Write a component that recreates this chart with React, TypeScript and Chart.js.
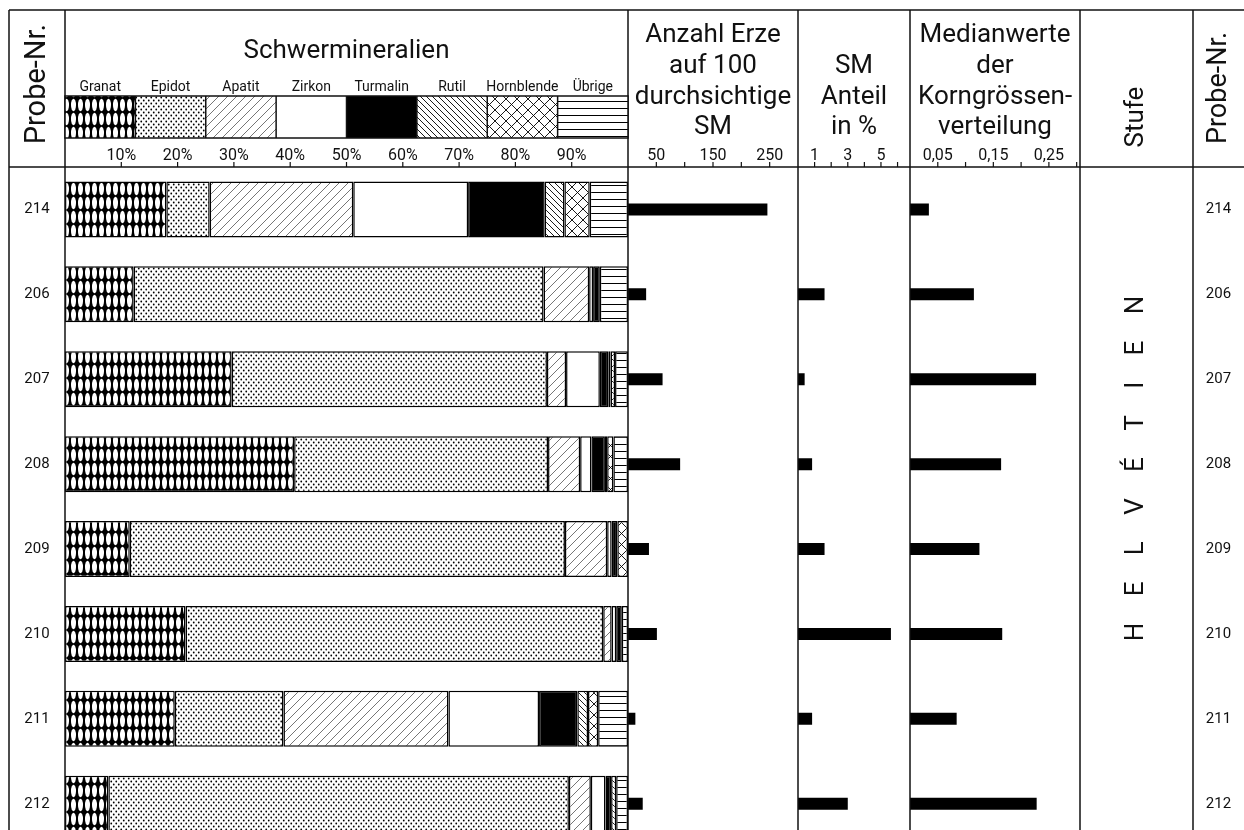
import React, { useEffect, useRef } from 'react';
import { Chart, registerables } from 'chart.js';

Chart.register(...registerables);

// ---- data ----
const samples = ['214', '206', '207', '208', '209', '210', '211', '212'];
const mineralNames = ['Granat', 'Epidot', 'Apatit', 'Zirkon', 'Turmalin', 'Rutil', 'Hornblende', 'Übrige'];

// heavy mineral composition in % per sample
const granat = [18.0, 12.2, 29.6, 40.7, 11.5, 21.4, 19.5, 7.7];
const epidot = [7.7, 72.8, 56.0, 45.1, 77.3, 74.2, 19.3, 81.8];
const apatit = [25.5, 8.1, 3.4, 5.7, 7.5, 1.5, 29.3, 3.9];
const zirkon = [20.4, 0.7, 6.0, 2.0, 0.8, 0.8, 16.1, 2.6];
const turmalin = [13.6, 1.2, 1.5, 2.4, 1.0, 1.0, 6.8, 1.0];
const rutil = [3.5, 0, 0.4, 0.4, 0, 0, 1.9, 0.9];
const hornblende = [4.5, 0, 0.8, 1.1, 1.9, 0, 1.8, 0];
const uebrige = [6.8, 5.0, 2.3, 2.6, 0, 1.1, 5.3, 2.1];

// ores per 100 transparent heavy minerals
const erze = [246, 32, 61, 92, 37, 51, 13, 26];
// heavy mineral share in %
const smAnteil = [null, 1.6, 0.4, 0.85, 1.6, 5.6, 0.85, 3.0];
// median grain size
const median = [0.034, 0.115, 0.227, 0.164, 0.125, 0.166, 0.084, 0.228];

// axis ticks and labels
const mineralTicks = [10, 20, 30, 40, 50, 60, 70, 80, 90];
const erzeTicks = [50, 100, 150, 200, 250];
const erzeLabels = [50, 150, 250];
const smTicks = [1, 2, 3, 4, 5, 6];
const smLabels = [1, 3, 5];
const medianTicks = [0.05, 0.1, 0.15, 0.2, 0.25, 0.3];
const medianLabels = [0.05, 0.15, 0.25];

const stageName = 'HELVÉTIEN';

// ---- layout ----
const W = 1244;
const H = 848;
const FONT = 'Roboto, "DejaVu Sans", sans-serif';
const INK = '#111';
const TOP = 10;
const HEAD_BOTTOM = 167;
const LEG_TOP = 96;
const LEG_BOTTOM = 138;
const FRAME_LEFT = 9;
const PROBE_RIGHT = 1193;
const ROW_PITCH = 84.9;
const MIN_LEFT = 65;
const MIN_RIGHT = 628;

const placement: Record<string, [number, number]> = {
  xErze: [628, 798],
  xSM: [798, 910],
  xMed: [910, 1080],
};

function makeTile(w: number, h: number, draw: (g: CanvasRenderingContext2D, w: number, h: number) => void) {
  const c = document.createElement('canvas');
  c.width = w;
  c.height = h;
  const g = c.getContext('2d')!;
  draw(g, w, h);
  return c;
}

function diagonalTile(s: number, dir: 1 | -1, color: string, lw: number) {
  return makeTile(s, s, (g) => {
    g.fillStyle = '#fff';
    g.fillRect(0, 0, s, s);
    g.strokeStyle = color;
    g.lineWidth = lw;
    g.beginPath();
    for (const k of [-1, 0, 1]) {
      if (dir === 1) {
        g.moveTo(k * s, s);
        g.lineTo(k * s + s, 0);
      } else {
        g.moveTo(k * s, 0);
        g.lineTo(k * s + s, s);
      }
    }
    g.stroke();
  });
}

function buildFills(ctx: CanvasRenderingContext2D): (CanvasPattern | string)[] {
  const granatTile = makeTile(7, 14, (g, w, h) => {
    g.fillStyle = '#000';
    g.fillRect(0, 0, w, h);
    g.fillStyle = '#fff';
    g.beginPath();
    g.ellipse(3.5, 7, 2.5, 6.2, 0, 0, Math.PI * 2);
    g.fill();
  });
  const epidotTile = makeTile(5, 6, (g, w, h) => {
    g.fillStyle = '#fff';
    g.fillRect(0, 0, w, h);
    g.fillStyle = '#000';
    for (const [px, py] of [[1.25, 1.5], [3.75, 4.5]]) {
      g.beginPath();
      g.arc(px, py, 0.9, 0, Math.PI * 2);
      g.fill();
    }
  });
  const apatitTile = diagonalTile(9, 1, '#666', 0.9);
  const rutilTile = diagonalTile(6, -1, '#000', 0.9);
  const hornTile = makeTile(11, 11, (g, w, h) => {
    g.fillStyle = '#fff';
    g.fillRect(0, 0, w, h);
    g.strokeStyle = '#000';
    g.lineWidth = 0.9;
    g.beginPath();
    for (const k of [-1, 0, 1]) {
      g.moveTo(k * w, h);
      g.lineTo(k * w + w, 0);
      g.moveTo(k * w, 0);
      g.lineTo(k * w + w, h);
    }
    g.stroke();
  });
  const uebrigeTile = makeTile(7, 7, (g, w, h) => {
    g.fillStyle = '#fff';
    g.fillRect(0, 0, w, h);
    g.fillStyle = '#000';
    g.fillRect(0, 3, w, 1);
  });
  const pat = (c: HTMLCanvasElement) => ctx.createPattern(c, 'repeat')!;
  return [pat(granatTile), pat(epidotTile), pat(apatitTile), '#fff', '#000', pat(rutilTile), pat(hornTile), pat(uebrigeTile)];
}

function line(ctx: CanvasRenderingContext2D, x1: number, y1: number, x2: number, y2: number) {
  ctx.beginPath();
  ctx.moveTo(x1, y1);
  ctx.lineTo(x2, y2);
  ctx.stroke();
}

function rotatedText(ctx: CanvasRenderingContext2D, text: string, cx: number, cy: number, font: string) {
  ctx.save();
  ctx.translate(cx, cy);
  ctx.rotate(-Math.PI / 2);
  ctx.font = font;
  ctx.textAlign = 'center';
  ctx.textBaseline = 'middle';
  ctx.fillText(text, 0, 0);
  ctx.restore();
}

function spacedRotated(ctx: CanvasRenderingContext2D, text: string, cx: number, cy: number, span: number, font: string) {
  ctx.save();
  ctx.translate(cx, cy);
  ctx.rotate(-Math.PI / 2);
  ctx.font = font;
  ctx.textAlign = 'center';
  ctx.textBaseline = 'middle';
  const chars = [...text];
  const widths = chars.map((c) => ctx.measureText(c).width);
  const inner = widths.reduce((a, b) => a + b, 0) - widths[0] / 2 - widths[widths.length - 1] / 2;
  const gap = (span - inner) / (chars.length - 1);
  let pos = -span / 2;
  chars.forEach((c, i) => {
    ctx.fillText(c, pos, 0);
    if (i < chars.length - 1) pos += widths[i] / 2 + gap + widths[i + 1] / 2;
  });
  ctx.restore();
}

function centeredLines(ctx: CanvasRenderingContext2D, lines: string[], cx: number, baselines: number[], font: string) {
  ctx.font = font;
  ctx.textAlign = 'center';
  ctx.textBaseline = 'alphabetic';
  lines.forEach((t, i) => ctx.fillText(t, cx, baselines[i]));
}

// moves the three side axes into their own columns
const columnPlugin = {
  id: 'columns',
  afterLayout(chart: any) {
    for (const id of Object.keys(placement)) {
      const s = chart.scales[id];
      if (!s) continue;
      const [l, r] = placement[id];
      s.left = l;
      s.right = r;
      s.width = r - l;
      s.configure();
    }
  },
};

function makeFramePlugin(fills: (CanvasPattern | string)[]) {
  return {
    id: 'frame',
    beforeDraw(chart: any) {
      const ctx = chart.ctx as CanvasRenderingContext2D;
      ctx.save();
      ctx.fillStyle = '#fff';
      ctx.fillRect(0, 0, chart.width, chart.height);
      ctx.restore();
    },
    afterDatasetsDraw(chart: any) {
      const ctx = chart.ctx as CanvasRenderingContext2D;
      const { x, xErze, xSM, xMed, y } = chart.scales;
      ctx.save();
      ctx.strokeStyle = INK;
      ctx.fillStyle = INK;
      ctx.lineWidth = 1.5;

      // outer frame and column dividers
      line(ctx, FRAME_LEFT, TOP, W, TOP);
      line(ctx, FRAME_LEFT, HEAD_BOTTOM, W, HEAD_BOTTOM);
      for (const vx of [FRAME_LEFT, x.left, x.right, xErze.right, xSM.right, xMed.right, PROBE_RIGHT]) {
        line(ctx, vx, TOP, vx, chart.height);
      }

      // mineral legend
      const cellW = (x.right - x.left) / mineralNames.length;
      mineralNames.forEach((name, i) => {
        const cx0 = x.left + i * cellW;
        ctx.fillStyle = fills[i] as any;
        ctx.fillRect(cx0, LEG_TOP, cellW, LEG_BOTTOM - LEG_TOP);
        ctx.fillStyle = INK;
        ctx.font = `14px ${FONT}`;
        ctx.textAlign = 'center';
        ctx.textBaseline = 'alphabetic';
        ctx.fillText(name, cx0 + cellW / 2, 91);
      });
      ctx.lineWidth = 1.5;
      ctx.strokeRect(x.left, LEG_TOP, x.right - x.left, LEG_BOTTOM - LEG_TOP);
      for (let i = 1; i < mineralNames.length; i++) {
        const vx = x.left + i * cellW;
        line(ctx, vx, LEG_TOP, vx, LEG_BOTTOM);
      }

      // tick marks along the header's lower edge
      ctx.lineWidth = 1.2;
      const ticks = (scale: any, values: number[]) => {
        values.forEach((v) => {
          const px = scale.getPixelForValue(v);
          line(ctx, px, HEAD_BOTTOM - 5, px, HEAD_BOTTOM);
        });
      };
      ticks(x, mineralTicks);
      ticks(xErze, erzeTicks);
      ticks(xSM, smTicks);
      ticks(xMed, medianTicks);

      const tickLabels = (scale: any, values: number[], fmt: (v: number) => string) => {
        ctx.font = `16px ${FONT}`;
        ctx.textAlign = 'center';
        ctx.textBaseline = 'alphabetic';
        values.forEach((v) => ctx.fillText(fmt(v), scale.getPixelForValue(v), 160));
      };
      tickLabels(x, mineralTicks, (v) => `${v}%`);
      tickLabels(xErze, erzeLabels, (v) => `${v}`);
      tickLabels(xSM, smLabels, (v) => `${v}`);
      tickLabels(xMed, medianLabels, (v) => v.toFixed(2).replace('.', ','));

      // column titles
      const bigFont = `26px ${FONT}`;
      centeredLines(ctx, ['Schwermineralien'], (x.left + x.right) / 2, [58], bigFont);
      const baselines = [42, 73, 104, 134];
      centeredLines(ctx, ['Anzahl Erze', 'auf 100', 'durchsichtige', 'SM'], (xErze.left + xErze.right) / 2, baselines, bigFont);
      centeredLines(ctx, ['SM', 'Anteil', 'in %'], (xSM.left + xSM.right) / 2, baselines.slice(1), bigFont);
      centeredLines(ctx, ['Medianwerte', 'der', 'Korngrössen-', 'verteilung'], (xMed.left + xMed.right) / 2, baselines, bigFont);
      rotatedText(ctx, 'Probe-Nr.', (FRAME_LEFT + x.left) / 2 + 1, 84, `29px ${FONT}`);
      rotatedText(ctx, 'Stufe', (xMed.right + PROBE_RIGHT) / 2, 117, `26px ${FONT}`);
      rotatedText(ctx, 'Probe-Nr.', (PROBE_RIGHT + W) / 2 + 1, 88, `27px ${FONT}`);

      // sample numbers on both sides
      ctx.font = `15px ${FONT}`;
      ctx.textAlign = 'center';
      ctx.textBaseline = 'middle';
      samples.forEach((s, i) => {
        const py = y.getPixelForValue(i);
        ctx.fillText(s, (FRAME_LEFT + x.left) / 2, py);
        ctx.fillText(s, (PROBE_RIGHT + W) / 2, py);
      });

      // stage name
      spacedRotated(ctx, stageName, (xMed.right + PROBE_RIGHT) / 2, 468.5, 327, `26px ${FONT}`);
      ctx.restore();
    },
  };
}

export default function App() {
  const ref = useRef<HTMLCanvasElement>(null);

  useEffect(() => {
    const canvas = ref.current!;
    const ctx = canvas.getContext('2d')!;
    const fills = buildFills(ctx);
    const mineralSeries = [granat, epidot, apatit, zirkon, turmalin, rutil, hornblende, uebrige];

    const mineralSets = mineralSeries.map((values, i) => ({
      label: mineralNames[i],
      data: values,
      xAxisID: 'x',
      stack: 'minerals',
      backgroundColor: fills[i] as any,
      borderColor: '#000',
      borderWidth: 1.5,
      borderSkipped: false as const,
      inflateAmount: 0,
      barThickness: 56,
    }));

    const sideSet = (label: string, data: (number | null)[], axis: string) => ({
      label,
      data,
      xAxisID: axis,
      grouped: false,
      backgroundColor: '#000',
      borderWidth: 0,
      inflateAmount: 0,
      barThickness: 12,
    });

    const chart = new Chart(canvas, {
      type: 'bar',
      data: {
        labels: samples,
        datasets: [
          ...mineralSets,
          sideSet('Anzahl Erze', erze, 'xErze'),
          sideSet('SM Anteil', smAnteil, 'xSM'),
          sideSet('Medianwerte', median, 'xMed'),
        ] as any,
      },
      options: {
        indexAxis: 'y',
        responsive: false,
        animation: false,
        events: [],
        layout: {
          padding: {
            left: MIN_LEFT,
            right: W - MIN_RIGHT,
            top: HEAD_BOTTOM,
            bottom: H - HEAD_BOTTOM - samples.length * ROW_PITCH,
          },
        },
        plugins: {
          legend: { display: false },
          tooltip: { enabled: false },
          title: { display: false },
        },
        scales: {
          y: { type: 'category', display: false, stacked: true, offset: true },
          x: { type: 'linear', axis: 'x', min: 0, max: 100, stacked: true, display: false },
          xErze: { type: 'linear', axis: 'x', min: 0, max: 300, display: false },
          xSM: { type: 'linear', axis: 'x', min: 0, max: 6.75, display: false },
          xMed: { type: 'linear', axis: 'x', min: 0, max: 0.306, display: false },
        } as any,
      },
      plugins: [columnPlugin, makeFramePlugin(fills)],
    });

    return () => chart.destroy();
  }, []);

  return (
    <div
      style={{
        position: 'absolute',
        left: 0,
        top: 0,
        width: W,
        height: 830,
        overflow: 'hidden',
        background: '#fff',
      }}
    >
      <canvas ref={ref} width={W} height={H} style={{ display: 'block', width: W, height: H }} />
    </div>
  );
}
